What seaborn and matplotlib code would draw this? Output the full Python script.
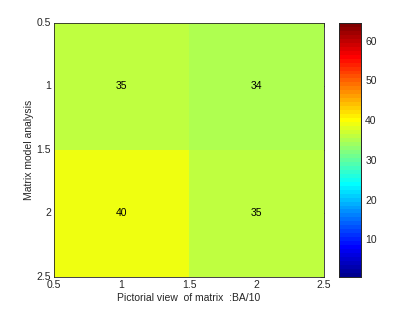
import numpy as np
import pandas as pd
import matplotlib
matplotlib.use("Agg")
import matplotlib.pyplot as plt
from matplotlib.colors import ListedColormap
import seaborn as sns

# Matrix (rows = model analysis, cols = pictorial view)
row_pos = [1, 2]
col_pos = [1, 2]
cell_labels = [[35, 34],
               [40, 35]]
# colour index of each cell
cell_colour = [[36, 35],
               [39, 36]]
axis_ticks = [0.5, 1, 1.5, 2, 2.5]
cbar_ticks = [10, 20, 30, 40, 50, 60]


def matlab_jet(m=64):
    # same construction as MATLAB's jet(m)
    n = int(np.ceil(m / 4))
    u = np.concatenate([np.arange(1, n + 1) / n, np.ones(n - 1), np.arange(n, 0, -1) / n])
    g = int(np.ceil(n / 2)) - (1 if m % 4 == 1 else 0) + np.arange(1, len(u) + 1)
    r = g + n
    b = g - n
    cmap = np.zeros((m, 3))
    for idx, ch in ((r, 0), (g, 1), (b, 2)):
        ok = (idx >= 1) & (idx <= m)
        cmap[idx[ok] - 1, ch] = u[ok]
    return ListedColormap(cmap)


sns.set_style("white")
plt.rcParams["font.family"] = ["Liberation Sans", "DejaVu Sans"]
plt.rcParams["font.size"] = 7.5

fig = plt.figure(figsize=(4.15, 3.13), dpi=100)
ax = fig.add_axes([0.130, 0.115, 0.651, 0.812])
cax = fig.add_axes([0.817, 0.115, 0.053, 0.812])

df = pd.DataFrame(cell_colour, index=row_pos, columns=col_pos)
sns.heatmap(
    df,
    ax=ax,
    cbar_ax=cax,
    cmap=matlab_jet(64),
    vmin=0.5,
    vmax=64.5,
    annot=np.array(cell_labels),
    fmt="d",
    annot_kws={"color": "black", "fontsize": 7.5},
)

# MATLAB style numeric axes from 0.5 to 2.5
ax.set_xticks([t - 0.5 for t in axis_ticks])
ax.set_xticklabels([f"{t:g}" for t in axis_ticks], rotation=0)
ax.set_yticks([t - 0.5 for t in axis_ticks])
ax.set_yticklabels([f"{t:g}" for t in axis_ticks], rotation=0)
ax.tick_params(direction="in", length=3, width=0.5, top=True, right=True,
               labelsize=7.5, pad=2)
for s in ax.spines.values():
    s.set_visible(True)
    s.set_linewidth(0.6)
ax.set_xlabel("Pictorial view  of matrix  :BA/10", fontsize=7.5, labelpad=2)
ax.set_ylabel("Matrix model analysis", fontsize=7.5, labelpad=2)

cax.set_yticks(cbar_ticks)
cax.tick_params(direction="in", length=3, width=0.5, left=True, right=True,
                labelsize=7.5, pad=3)
for s in cax.spines.values():
    s.set_visible(True)
    s.set_linewidth(0.6)

fig.savefig("out.png", dpi=100)
